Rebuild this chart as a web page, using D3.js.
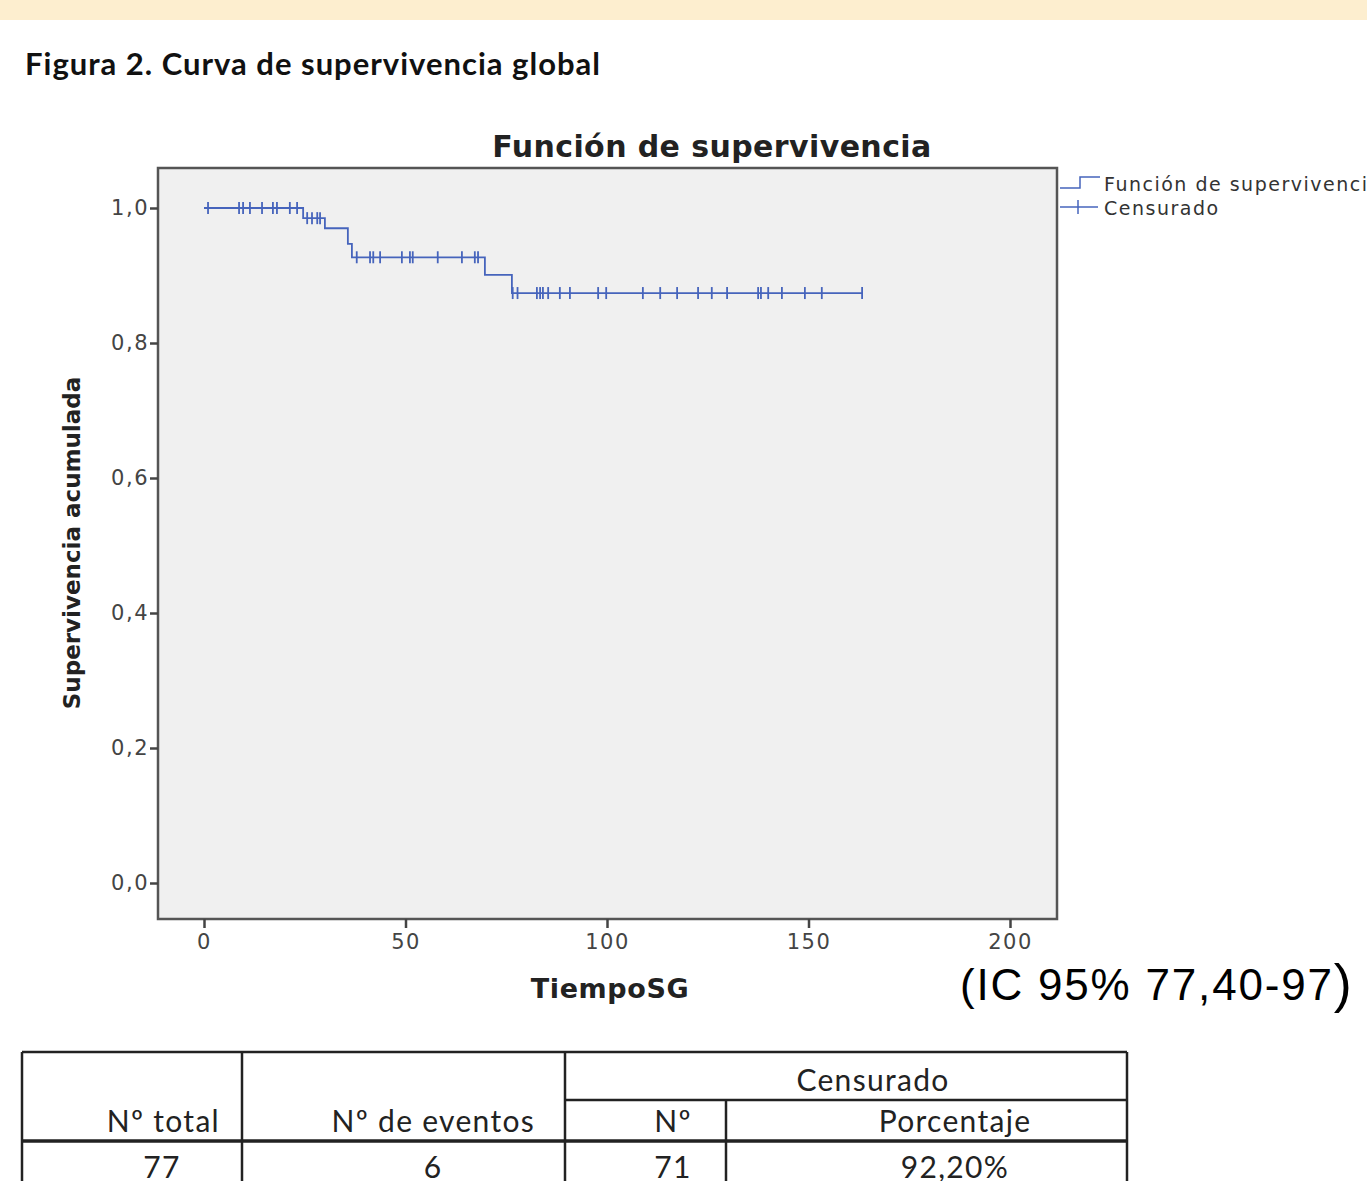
<!DOCTYPE html>
<html>
<head>
<meta charset="utf-8">
<script src="https://cdn.jsdelivr.net/npm/d3@7"></script>
<style>
body { margin: 0; background: #fff; }
svg { display: block; }
</style>
</head>
<body>
<svg width="1367" height="1181"></svg>
<script>
// tiempos de los eventos (TiempoSG) y supervivencia acumulada tras cada uno
var eventTimes = [24.6, 30.0, 35.7, 36.7, 69.7, 76.4];
var eventSurv = [0.985, 0.970, 0.947, 0.927, 0.901, 0.874];

// casos censurados
var censorTimes = [1, 8.7, 9.7, 11.4, 14.4, 17.1, 18.1, 21.3, 23.1,
    25.6, 26.8, 28.1, 28.8,
    37.9, 41.2, 42.0, 43.7, 49.1, 51.1, 51.8, 58.0, 64.0, 67.2, 68.0,
    76.6, 77.8, 82.6, 83.4, 84.1, 85.4, 88.3, 90.8, 97.8, 99.8, 108.9, 113.2,
    117.4, 122.6, 126.0, 129.8, 137.5, 138.2, 140.0, 143.4, 149.1, 153.3, 163.3];

var xTicks = [0, 50, 100, 150, 200];
var yTicks = [0, 0.2, 0.4, 0.6, 0.8, 1.0];

var tableHead = ["Nº total", "Nº de eventos", "Nº", "Porcentaje"];
var tableRow = ["77", "6", "71", "92,20%"];

var blue = "#4664bc";
var svg = d3.select("svg");

// banda superior
svg.append("rect").attr("x", 0).attr("y", 0).attr("width", 1367).attr("height", 20)
    .attr("fill", "#fdeecf");

svg.append("text")
    .attr("x", 25).attr("y", 75)
    .style("font-family", "Lato")
    .style("font-weight", "bold")
    .style("font-size", "31px")
    .style("letter-spacing", "1px")
    .attr("fill", "#111")
    .text("Figura 2. Curva de supervivencia global");

var pLeft = 158, pRight = 1057, pTop = 168, pBottom = 919;

var x = d3.scaleLinear().domain([0, 200]).range([204, 1010]);
var y = d3.scaleLinear().domain([0, 1]).range([883, 208]);

svg.append("rect")
    .attr("x", pLeft).attr("y", pTop)
    .attr("width", pRight - pLeft).attr("height", pBottom - pTop)
    .attr("fill", "#f0f0f0")
    .attr("stroke", "#555")
    .attr("stroke-width", 2.5);

svg.append("text")
    .attr("x", 712).attr("y", 157)
    .attr("text-anchor", "middle")
    .style("font-family", "DejaVu Sans")
    .style("font-weight", "bold")
    .style("font-size", "30px")
    .style("letter-spacing", "0.4px")
    .attr("fill", "#222")
    .text("Función de supervivencia");

function fmt(d) { return d3.format(".1f")(d).replace(".", ","); }

var yAxis = svg.append("g")
    .attr("transform", "translate(" + pLeft + ",0)")
    .call(d3.axisLeft(y).tickValues(yTicks).tickSize(8).tickPadding(1).tickFormat(fmt));
var xAxis = svg.append("g")
    .attr("transform", "translate(0," + pBottom + ")")
    .call(d3.axisBottom(x).tickValues(xTicks).tickSize(9).tickPadding(6).tickFormat(d3.format("d")));

[yAxis, xAxis].forEach(function (a) {
    a.select(".domain").remove();
    a.selectAll("line").attr("stroke", "#444").attr("stroke-width", 2.5);
    a.selectAll("text")
        .style("font-family", "DejaVu Sans")
        .style("font-size", "21px")
        .style("letter-spacing", "1.5px")
        .attr("fill", "#444");
});

svg.append("text")
    .attr("transform", "translate(80,543) rotate(-90)")
    .attr("text-anchor", "middle")
    .style("font-family", "DejaVu Sans")
    .style("font-weight", "bold")
    .style("font-size", "23px")
    .attr("fill", "#222")
    .text("Supervivencia acumulada");

svg.append("text")
    .attr("x", 610).attr("y", 998)
    .attr("text-anchor", "middle")
    .style("font-family", "DejaVu Sans")
    .style("font-weight", "bold")
    .style("font-size", "27px")
    .style("letter-spacing", "0.6px")
    .attr("fill", "#222")
    .text("TiempoSG");

// curva escalonada
function surv(t) {
    var s = 1;
    eventTimes.forEach(function (e, i) { if (e <= t) s = eventSurv[i]; });
    return s;
}
var lastT = d3.max(censorTimes);
var pts = [[0, 1]];
eventTimes.forEach(function (e, i) { pts.push([e, eventSurv[i]]); });
pts.push([lastT, surv(lastT)]);

var line = d3.line()
    .x(function (d) { return x(d[0]); })
    .y(function (d) { return y(d[1]); })
    .curve(d3.curveStepAfter);

svg.append("path")
    .datum(pts)
    .attr("d", line)
    .attr("fill", "none")
    .attr("stroke", blue)
    .attr("stroke-width", 1.8);

svg.selectAll(".cens")
    .data(censorTimes)
    .enter().append("line")
    .attr("class", "cens")
    .attr("x1", function (d) { return x(d); })
    .attr("x2", function (d) { return x(d); })
    .attr("y1", function (d) { return y(surv(d)) - 6; })
    .attr("y2", function (d) { return y(surv(d)) + 6; })
    .attr("stroke", blue)
    .attr("stroke-width", 1.8);

// leyenda
var lg = svg.append("g");
lg.append("path")
    .attr("d", "M1060,188 H1080 V177 H1100")
    .attr("fill", "none").attr("stroke", blue).attr("stroke-width", 1.5);
lg.append("line")
    .attr("x1", 1060).attr("x2", 1098).attr("y1", 207).attr("y2", 207)
    .attr("stroke", blue).attr("stroke-width", 1.5);
lg.append("line")
    .attr("x1", 1078).attr("x2", 1078).attr("y1", 200).attr("y2", 214)
    .attr("stroke", blue).attr("stroke-width", 1.5);
lg.selectAll("text")
    .data(["Función de supervivencia", "Censurado"])
    .enter().append("text")
    .attr("x", 1104)
    .attr("y", function (d, i) { return 191 + i * 24; })
    .style("font-family", "DejaVu Sans")
    .style("font-size", "19px")
    .style("letter-spacing", "1.5px")
    .attr("fill", "#333")
    .text(function (d) { return d; });

// intervalo de confianza
var ic = svg.append("text")
    .attr("x", 960).attr("y", 1000)
    .style("font-family", "Liberation Sans")
    .style("font-size", "44px")
    .style("letter-spacing", "1.8px")
    .attr("fill", "#000");
ic.append("tspan").text("(IC 95% 77,40-97");
ic.append("tspan").style("font-size", "54px").style("letter-spacing", "0px").attr("dy", 2).text(")");

// tabla
var tf = "Lato";
var tb = svg.append("g").attr("stroke", "#222").attr("stroke-width", 2.5);
tb.append("line").attr("x1", 22).attr("x2", 1127).attr("y1", 1052).attr("y2", 1052);
tb.append("line").attr("x1", 565).attr("x2", 1127).attr("y1", 1100).attr("y2", 1100);
tb.append("line").attr("x1", 22).attr("x2", 1127).attr("y1", 1141).attr("y2", 1141).attr("stroke-width", 3.5);
[22, 242, 565, 1127].forEach(function (cx) {
    tb.append("line").attr("x1", cx).attr("x2", cx).attr("y1", 1052).attr("y2", 1181);
});
tb.append("line").attr("x1", 726).attr("x2", 726).attr("y1", 1100).attr("y2", 1181);

function cell(txt, cx, cy, anchor) {
    svg.append("text")
        .attr("x", cx).attr("y", cy)
        .attr("text-anchor", anchor)
        .style("font-family", tf)
        .style("font-size", "30px")
        .style("letter-spacing", "1.3px")
        .attr("fill", "#222")
        .text(txt);
}
cell("Censurado", 873, 1091, "middle");
var headX = [220, 535, 673, 955];
var headA = ["end", "end", "middle", "middle"];
tableHead.forEach(function (h, i) { cell(h, headX[i], 1132, headA[i]); });
var rowX = [162, 433, 673, 955];
tableRow.forEach(function (v, i) { cell(v, rowX[i], 1178, "middle"); });
</script>
</body>
</html>
